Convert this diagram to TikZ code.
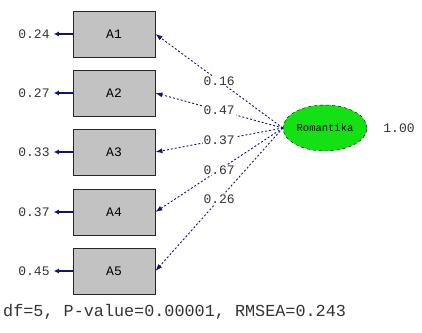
\documentclass[tikz,border=0pt]{standalone}
\usepackage{fontspec}
\newfontfamily\lisfont{Liberation Mono}
\usetikzlibrary{shapes.geometric,arrows.meta}
\definecolor{pathblue}{RGB}{20,20,110}
\definecolor{latgreen}{RGB}{20,225,20}
\begin{document}
\begin{tikzpicture}[
       x=1pt,y=-1pt,
       indicateur/.style={
         rectangle,
         fill=black!24,
         draw=black!85,
         line width=0.9pt,
         minimum width=82pt,
         minimum height=46pt,
         font=\lisfont\fontsize{13}{15}\selectfont
       },
       latent/.style={
         ellipse,
         fill=latgreen,
         draw=black,
         dashed,
         minimum width=84pt,
         minimum height=46pt,
         inner sep=0pt,
         font=\lisfont\fontsize{10.5}{12}\selectfont
       },
       valeur/.style={
         inner sep=1pt,
         text=black!80,
         font=\lisfont\fontsize{13}{15}\selectfont
       },
       charge/.style={
         pathblue,
         dash pattern=on 2pt off 2pt,
         line width=0.9pt,
         -{Latex[length=7pt,width=5pt]}
       },
       erreur/.style={
         pathblue,
         line width=1.8pt,
         shorten >=3pt,
         -{Latex[length=5pt,width=5pt]}
       }
     ]

       \useasboundingbox (0,0) rectangle (422,332);

       \node (a1) at (114,34) [indicateur]{A1};
       \node (a2) at (114,93) [indicateur]{A2};
       \node (a3) at (114,152)[indicateur]{A3};
       \node (a4) at (114,212)[indicateur]{A4};
       \node (a5) at (114,271)[indicateur]{A5};

       \node (e1) at (34,34) [valeur]{0.24};
       \node (e2) at (34,93) [valeur]{0.27};
       \node (e3) at (34,152)[valeur]{0.33};
       \node (e4) at (34,212)[valeur]{0.37};
       \node (e5) at (34,271)[valeur]{0.45};

       \node (rom) at (325,128) [latent]{Romantika};
       \node (var) at (399,128) [valeur]{1.00};

       \draw[erreur] (a1.west) -- (e1.east);
       \draw[erreur] (a2.west) -- (e2.east);
       \draw[erreur] (a3.west) -- (e3.east);
       \draw[erreur] (a4.west) -- (e4.east);
       \draw[erreur] (a5.west) -- (e5.east);

       \draw[charge] (rom.west) -- node[valeur,fill=white] (l1) {0.16} (a1.east);
       \draw[charge] (rom.west) -- node[valeur,fill=white] (l2) {0.47} (a2.east);
       \draw[charge] (rom.west) -- node[valeur,fill=white] (l3) {0.37} (a3.east);
       \draw[charge] (rom.west) -- node[valeur,fill=white] (l4) {0.67} (a4.east);
       \draw[charge] (rom.west) -- node[valeur,fill=white] (l5) {0.26} (a5.east);

       \node (fit) at (2,312) [valeur,anchor=west,font=\lisfont\fontsize{16.8}{18}\selectfont]
         {df=5, P-value=0.00001, RMSEA=0.243};

\end{tikzpicture}
\end{document}
